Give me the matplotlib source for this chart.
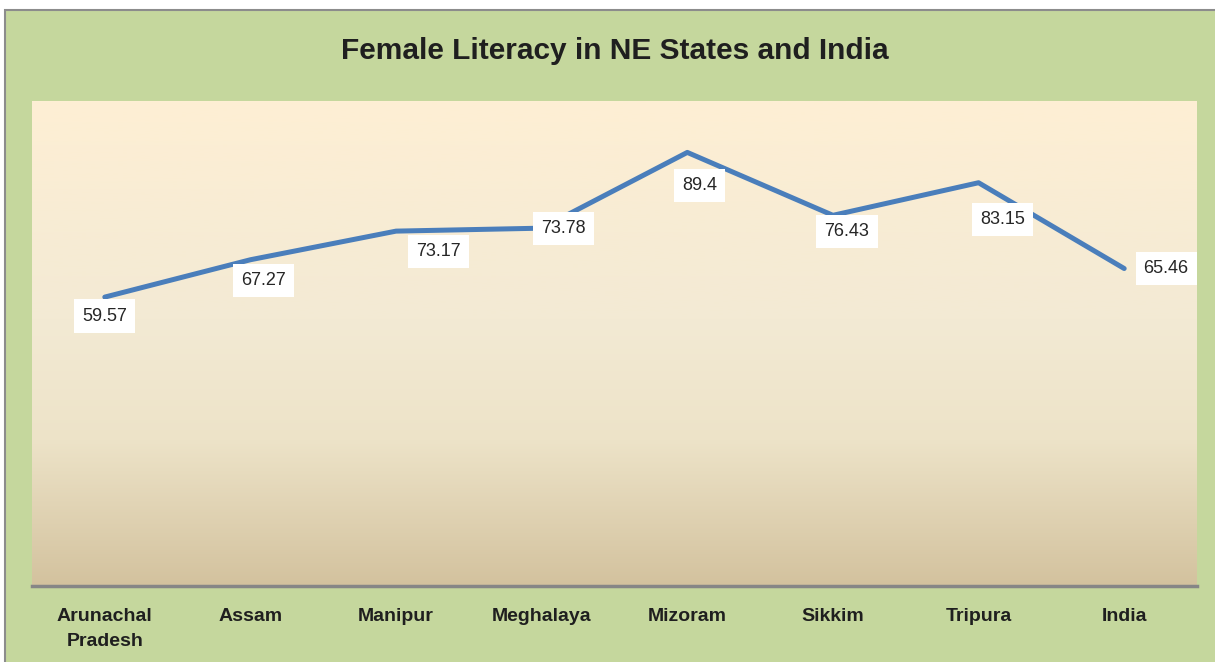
import numpy as np
import matplotlib.pyplot as plt
from matplotlib.colors import LinearSegmentedColormap
from matplotlib.patches import Rectangle
from matplotlib import font_manager

states = ["Arunachal\nPradesh", "Assam", "Manipur", "Meghalaya",
          "Mizoram", "Sikkim", "Tripura", "India"]
literacy = [59.57, 67.27, 73.17, 73.78, 89.4, 76.43, 83.15, 65.46]

# label offsets in pixels (right, down) as placed in the original
label_offsets = [(0, 19), (13, 21), (42, 20), (22, 0),
                 (12, 33), (14, 16), (24, 37), (42, 0)]

names = {f.name for f in font_manager.fontManager.ttflist}
narrow = "Liberation Sans Narrow" if "Liberation Sans Narrow" in names else "Liberation Sans"
plt.rcParams['font.family'] = [narrow, 'DejaVu Sans']

W, H = 1215, 662
fig = plt.figure(figsize=(W / 100, H / 100), dpi=100)
fig.patch.set_facecolor('white')
bg = Rectangle((5 / W, -0.01), 1.02, (H - 10) / H + 0.01,
               transform=fig.transFigure, facecolor='#C5D79D',
               edgecolor='#8C8C8C', linewidth=1.5, zorder=-10)
fig.add_artist(bg)

ax = fig.add_axes([32 / W, (H - 586) / H, 1165 / W, 485 / H])
ax.set_zorder(1)
ax.set_facecolor('none')

cmap = LinearSegmentedColormap.from_list(
    'bg', [(0, '#FEEFD4'), (0.45, '#F3EAD4'), (0.7, '#EDE3C8'), (1, '#D3C29E')])
grad = np.linspace(0, 1, 256).reshape(-1, 1)
ax.imshow(grad, aspect='auto', cmap=cmap, extent=(-0.5, 7.5, 0, 100),
          origin='upper', zorder=0)

x = np.arange(len(states))
ax.plot(x, literacy, color='#4A7EBB', linewidth=3.6, solid_capstyle='round',
        solid_joinstyle='round', zorder=2)

for xi, v, (dx, dy) in zip(x, literacy, label_offsets):
    ax.annotate(f'{v:g}', (xi, v), xytext=(dx * 0.72, -dy * 0.72),
                textcoords='offset points', ha='center', va='center',
                fontsize=13, color='#262626', zorder=3,
                bbox=dict(boxstyle='square,pad=0.45', facecolor='white',
                          edgecolor='none'))

ax.set_xlim(-0.5, 7.5)
ax.set_ylim(0, 100)
ax.set_yticks([])
ax.set_xticks(x)
ax.set_xticklabels(states, fontsize=14, fontweight='bold', color='#1F1F1F',
                   linespacing=1.6)
ax.tick_params(axis='x', length=0, pad=16)
for side in ['top', 'left', 'right']:
    ax.spines[side].set_visible(False)
ax.spines['bottom'].set_color('#868686')
ax.spines['bottom'].set_linewidth(2.5)
ax.spines['bottom'].set_zorder(4)

fig.text(615 / W, 1 - 51 / H, 'Female Literacy in NE States and India',
         ha='center', va='center', fontsize=21.5, fontweight='bold',
         color='#1F1F1F')

fig.savefig('out.png', dpi=100, facecolor=fig.get_facecolor())
